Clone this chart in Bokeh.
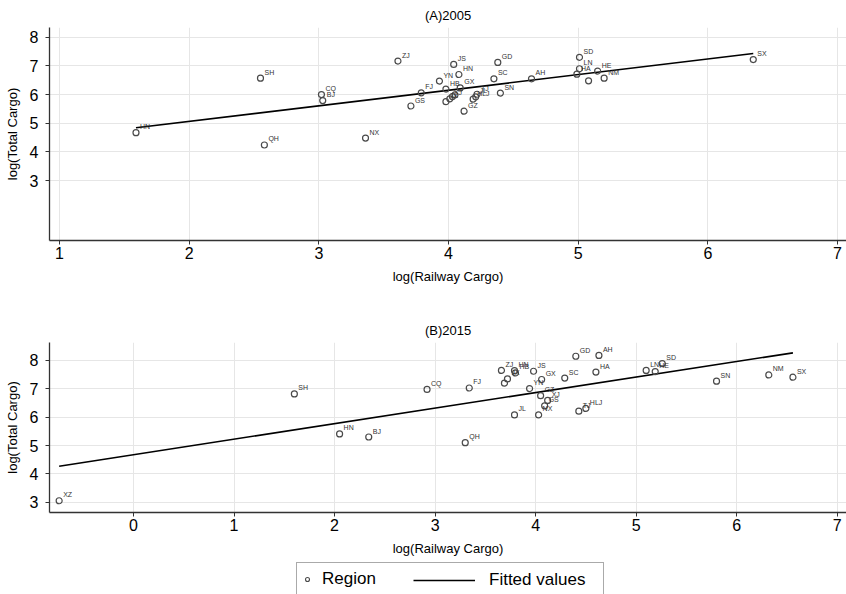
from bokeh.plotting import figure
from bokeh.layouts import column
from bokeh.models import Range1d, FixedTicker, ColumnDataSource, Legend, LegendItem
from bokeh.embed import file_html
from bokeh.resources import INLINE
from bokeh.core.properties import value

FONT = "Liberation Sans"

# ---------------- Panel A: 2005 ----------------
a_regions = ["HN", "SH", "QH", "CQ", "BJ", "NX", "ZJ", "GS", "FJ", "YN", "HB", "JS", "HN", "GX",
             "JX", "XJ", "", "", "GZ", "HLJ", "JL", "TJ", "SC", "SN", "GD", "AH",
             "SD", "LN", "HA", "", "HE", "NM", "SX"]
a_rail = [1.59, 2.55, 2.58, 3.02, 3.03, 3.36, 3.61, 3.71, 3.79, 3.93, 3.98, 4.04, 4.08, 4.09,
          3.98, 4.01, 4.03, 4.05, 4.12, 4.19, 4.21, 4.22, 4.35, 4.40, 4.38, 4.64,
          5.01, 5.01, 4.99, 5.08, 5.15, 5.20, 6.35]
a_total = [4.67, 6.57, 4.24, 6.00, 5.79, 4.48, 7.17, 5.60, 6.06, 6.47, 6.19, 7.05, 6.70, 6.23,
           5.75, 5.85, 5.93, 5.99, 5.42, 5.84, 5.92, 6.01, 6.55, 6.05, 7.12, 6.55,
           7.30, 6.90, 6.71, 6.48, 6.82, 6.57, 7.22]
a_fit_x = [1.59, 6.35]
a_fit_y = [4.84, 7.43]

# ---------------- Panel B: 2015 ----------------
b_regions = ["XZ", "SH", "HN", "BJ", "CQ", "QH", "FJ", "ZJ", "HN", "HB", "JX", "", "YN", "JS",
             "GX", "GZ", "XJ", "GS", "JL", "NX", "SC", "GD", "TJ", "HLJ", "HA", "AH",
             "LN", "HE", "SD", "SN", "NM", "SX"]
b_rail = [-0.74, 1.60, 2.05, 2.34, 2.92, 3.30, 3.34, 3.66, 3.79, 3.80, 3.72, 3.69, 3.94, 3.98,
          4.06, 4.05, 4.12, 4.09, 3.79, 4.03, 4.29, 4.40, 4.43, 4.50, 4.60, 4.63,
          5.10, 5.19, 5.26, 5.80, 6.32, 6.56]
b_total = [3.05, 6.82, 5.41, 5.30, 6.98, 5.10, 7.03, 7.65, 7.64, 7.56, 7.35, 7.20, 7.01, 7.62,
           7.33, 6.76, 6.59, 6.40, 6.08, 6.08, 7.38, 8.15, 6.21, 6.31, 7.59, 8.18,
           7.65, 7.61, 7.89, 7.27, 7.49, 7.41]
b_fit_x = [-0.74, 6.56]
b_fit_y = [4.27, 8.27]

a_xticks = [1, 2, 3, 4, 5, 6, 7]
b_xticks = [0, 1, 2, 3, 4, 5, 6, 7]
y_ticks = [3, 4, 5, 6, 7, 8]

MARK = "#4a4a4a"
GRID = "#e6e6e6"


def panel(title, regions, rail, total, fit_x, fit_y, xr, yr, xticks, height, btop, bbottom):
    p = figure(width=846, height=height, x_range=Range1d(*xr), y_range=Range1d(*yr),
               output_backend="svg", toolbar_location=None,
               min_border_left=49, min_border_right=0,
               min_border_top=btop, min_border_bottom=bbottom)
    p.title.text = title
    p.title.align = "center"
    p.title.text_font = FONT
    p.title.text_font_size = "13px"
    p.title.text_font_style = "normal"
    p.title.text_color = "black"
    p.outline_line_color = None
    p.background_fill_color = "white"
    p.border_fill_color = "white"

    xt = FixedTicker(ticks=xticks)
    yt = FixedTicker(ticks=y_ticks)
    p.xaxis.ticker = xt
    p.yaxis.ticker = yt
    p.xgrid.ticker = xt
    p.ygrid.ticker = yt
    p.grid.grid_line_color = GRID
    p.grid.grid_line_width = 1

    for ax in (p.xaxis, p.yaxis):
        ax.axis_line_color = "#333333"
        ax.axis_line_width = 1.3
        ax.major_tick_line_color = "#333333"
        ax.major_tick_out = 4
        ax.major_tick_in = 0
        ax.minor_tick_line_color = None
        ax.major_label_text_font = FONT
        ax.major_label_text_font_size = "16px"
        ax.major_label_text_color = "black"
        ax.axis_label_text_font = FONT
        ax.axis_label_text_font_size = "13px"
        ax.axis_label_text_font_style = "normal"
        ax.axis_label_text_color = "black"
    p.xaxis.axis_label = "log(Railway Cargo)"
    p.yaxis.axis_label = "log(Total Cargo)"
    p.xaxis.major_label_standoff = 2
    p.xaxis.axis_label_standoff = 7
    p.yaxis.major_label_standoff = 7
    p.yaxis.axis_label_standoff = 7

    src = ColumnDataSource(dict(x=rail, y=total, label=regions))
    p.line(fit_x, fit_y, line_color="black", line_width=1.6)
    p.scatter("x", "y", source=src, marker="circle", size=6, fill_color=None,
              line_color=MARK, line_width=1.2)
    p.text("x", "y", text="label", source=src, x_offset=4, y_offset=-6,
           text_font=value(FONT), text_font_size="7px", text_color="#333333",
           text_baseline="middle", text_align="left")
    return p


pa = panel("(A)2005", a_regions, a_rail, a_total, a_fit_x, a_fit_y,
           (0.923, 7.069), (0.907, 8.34), a_xticks, 300, 27, 60)
pb = panel("(B)2015", b_regions, b_rail, b_total, b_fit_x, b_fit_y,
           (-0.836, 7.093), (2.636, 8.635), b_xticks, 260, 42, 48)

# ---------------- Legend strip ----------------
# The legend strip re-uses the 2015 series; its ranges keep those marks clipped,
# so only the legend samples are visible.
lg = figure(width=846, height=34, x_range=Range1d(0, 1), y_range=Range1d(0, 1),
            output_backend="svg", toolbar_location=None,
            x_axis_location=None, y_axis_location=None,
            min_border_left=49, min_border_right=0, min_border_top=0, min_border_bottom=0)
lg.grid.visible = False
lg.outline_line_color = None
r1 = lg.scatter(x=b_rail, y=b_total, marker="circle", size=5, fill_color=None,
                line_color=MARK, line_width=1.1)
r2 = lg.line(x=b_fit_x, y=b_fit_y, line_color="black", line_width=1.6)

leg_common = dict(margin=0, background_fill_alpha=0,
                  label_text_font=FONT, label_text_font_size="17px", label_text_color="black",
                  glyph_height=22)
leg1 = Legend(items=[LegendItem(label="Region", renderers=[r1])], location=(247, -2),
              padding=5, glyph_width=10, label_standoff=10, label_width=276,
              border_line_color="#555555", border_line_width=1.2, **leg_common)
leg2 = Legend(items=[LegendItem(label="Fitted values", renderers=[r2])], location=(364, 3),
              padding=0, glyph_width=62, label_standoff=14, border_line_color=None, **leg_common)
lg.add_layout(leg1)
lg.add_layout(leg2)

layout = column(pa, pb, lg, spacing=0)
open("out.html", "w").write(file_html(layout, INLINE))
